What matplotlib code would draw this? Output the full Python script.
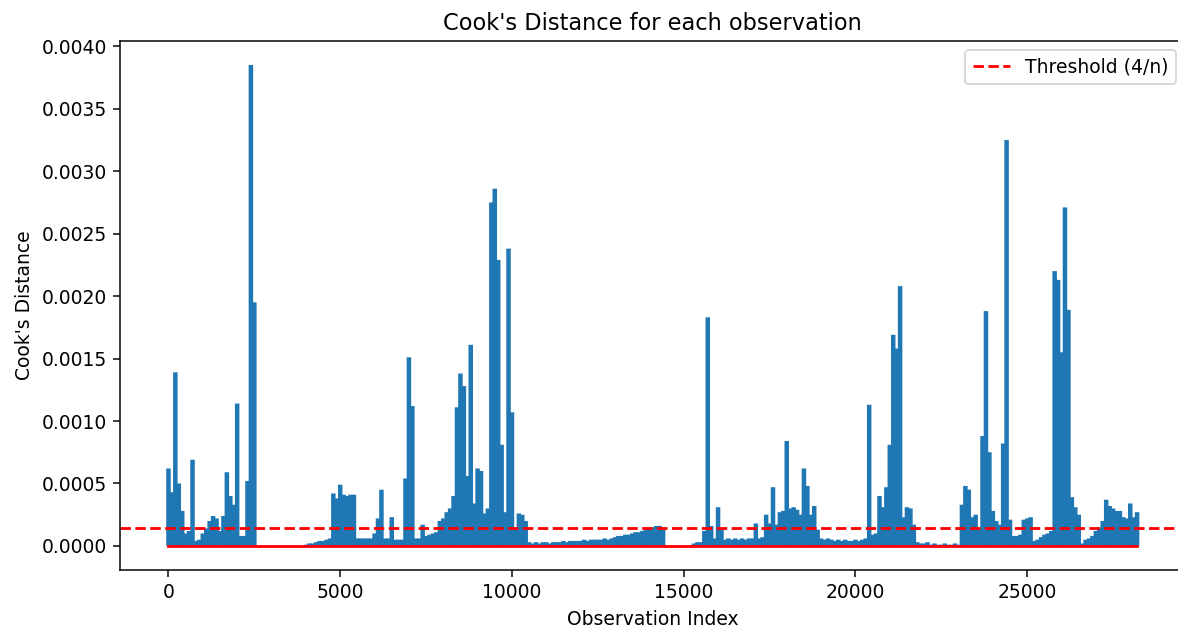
import matplotlib
matplotlib.use("Agg")
import matplotlib.pyplot as plt
import numpy as np

bin_size = 100
cooks_d = [
    # 0 - 999
    0.00062, 0.00043, 0.00139, 0.00050, 0.00028, 0.00010, 0.00012, 0.00069, 0.00004, 0.00005,
    # 1000 - 1999
    0.00010, 0.00014, 0.00020, 0.00024, 0.00022, 0.00012, 0.00024, 0.00059, 0.00040, 0.00033,
    # 2000 - 2999
    0.00114, 0.00008, 0.00008, 0.00052, 0.00385, 0.00195, 0.0, 0.0, 0.0, 0.0,
    # 3000 - 3999
    0.0, 0.0, 0.0, 0.0, 0.0, 0.0, 0.0, 0.0, 0.0, 0.0,
    # 4000 - 4999
    0.00001, 0.00002, 0.00002, 0.00003, 0.00004, 0.00004, 0.00005, 0.00006, 0.00042, 0.00038,
    # 5000 - 5999
    0.00049, 0.00041, 0.00040, 0.00041, 0.00041, 0.00006, 0.00006, 0.00006, 0.00006, 0.00006,
    # 6000 - 6999
    0.00010, 0.00022, 0.00045, 0.00006, 0.00006, 0.00023, 0.00005, 0.00005, 0.00005, 0.00054,
    # 7000 - 7999
    0.00151, 0.00112, 0.00006, 0.00006, 0.00017, 0.00008, 0.00009, 0.00010, 0.00011, 0.00020,
    # 8000 - 8999
    0.00022, 0.00027, 0.00030, 0.00040, 0.00111, 0.00138, 0.00128, 0.00056, 0.00161, 0.00034,
    # 9000 - 9999
    0.00062, 0.00060, 0.00026, 0.00030, 0.00275, 0.00286, 0.00229, 0.00081, 0.00027, 0.00238,
    # 10000 - 10999
    0.00107, 0.00014, 0.00026, 0.00025, 0.00020, 0.00003, 0.00002, 0.00003, 0.00002, 0.00003,
    # 11000 - 11999
    0.00003, 0.00002, 0.00003, 0.00003, 0.00003, 0.00004, 0.00003, 0.00004, 0.00004, 0.00004,
    # 12000 - 12999
    0.00004, 0.00005, 0.00004, 0.00005, 0.00005, 0.00005, 0.00005, 0.00006, 0.00005, 0.00006,
    # 13000 - 13999
    0.00007, 0.00008, 0.00008, 0.00009, 0.00009, 0.00010, 0.00011, 0.00011, 0.00012, 0.00013,
    # 14000 - 14999
    0.00014, 0.00015, 0.00016, 0.00016, 0.00013, 0.0, 0.0, 0.0, 0.0, 0.0,
    # 15000 - 15999
    0.0, 0.0, 0.0, 0.00002, 0.00003, 0.00003, 0.00012, 0.00183, 0.00016, 0.00006,
    # 16000 - 16999
    0.00031, 0.00014, 0.00005, 0.00006, 0.00005, 0.00006, 0.00005, 0.00006, 0.00005, 0.00006,
    # 17000 - 17999
    0.00006, 0.00018, 0.00006, 0.00007, 0.00025, 0.00018, 0.00047, 0.00017, 0.00027, 0.00028,
    # 18000 - 18999
    0.00084, 0.00030, 0.00031, 0.00029, 0.00025, 0.00062, 0.00048, 0.00025, 0.00032, 0.00013,
    # 19000 - 19999
    0.00006, 0.00005, 0.00006, 0.00005, 0.00004, 0.00005, 0.00004, 0.00005, 0.00004, 0.00004,
    # 20000 - 20999
    0.00005, 0.00004, 0.00005, 0.00006, 0.00113, 0.00009, 0.00010, 0.00040, 0.00031, 0.00047,
    # 21000 - 21999
    0.00081, 0.00169, 0.00158, 0.00208, 0.00023, 0.00031, 0.00030, 0.00017, 0.00003, 0.00002,
    # 22000 - 22999
    0.00002, 0.00003, 0.00001, 0.00002, 0.00001, 0.00001, 0.00002, 0.00001, 0.00001, 0.00002,
    # 23000 - 23999
    0.00001, 0.00033, 0.00048, 0.00045, 0.00023, 0.00025, 0.00014, 0.00088, 0.00188, 0.00075,
    # 24000 - 24999
    0.00028, 0.00020, 0.00017, 0.00082, 0.00325, 0.00021, 0.00008, 0.00008, 0.00009, 0.00021,
    # 25000 - 25999
    0.00022, 0.00023, 0.00004, 0.00005, 0.00007, 0.00009, 0.00010, 0.00012, 0.00220, 0.00213,
    # 26000 - 26999
    0.00155, 0.00271, 0.00189, 0.00039, 0.00031, 0.00025, 0.00002, 0.00005, 0.00006, 0.00008,
    # 27000 - 27999
    0.00012, 0.00015, 0.00020, 0.00037, 0.00032, 0.00030, 0.00028, 0.00028, 0.00023, 0.00022,
    # 28000 - 28299
    0.00034, 0.00023, 0.00027,
]
n_obs = 28300

cooks_d = np.array(cooks_d)
obs_index = np.arange(len(cooks_d)) * bin_size
threshold = 4 / n_obs

dpi = 135
fig = plt.figure(figsize=(1178 / dpi, 631 / dpi), dpi=dpi)
ax = fig.add_axes([0.1019, 0.0967, 0.9045, 0.8384])

markerline, stemlines, baseline = ax.stem(obs_index, cooks_d, markerfmt=" ", basefmt="r-")
stemlines.set_linewidth(2.4)
stemlines.set_color("#1f77b4")
stemlines.set_snap(False)
stemlines.set_capstyle("butt")

ax.axhline(threshold, color="r", linestyle="--", label="Threshold (4/n)")

ax.set_title("Cook's Distance for each observation", fontsize=12)
ax.set_xlabel("Observation Index")
ax.set_ylabel("Cook's Distance")
ax.legend(loc="upper right")

fig.savefig("out.png", dpi=dpi)
